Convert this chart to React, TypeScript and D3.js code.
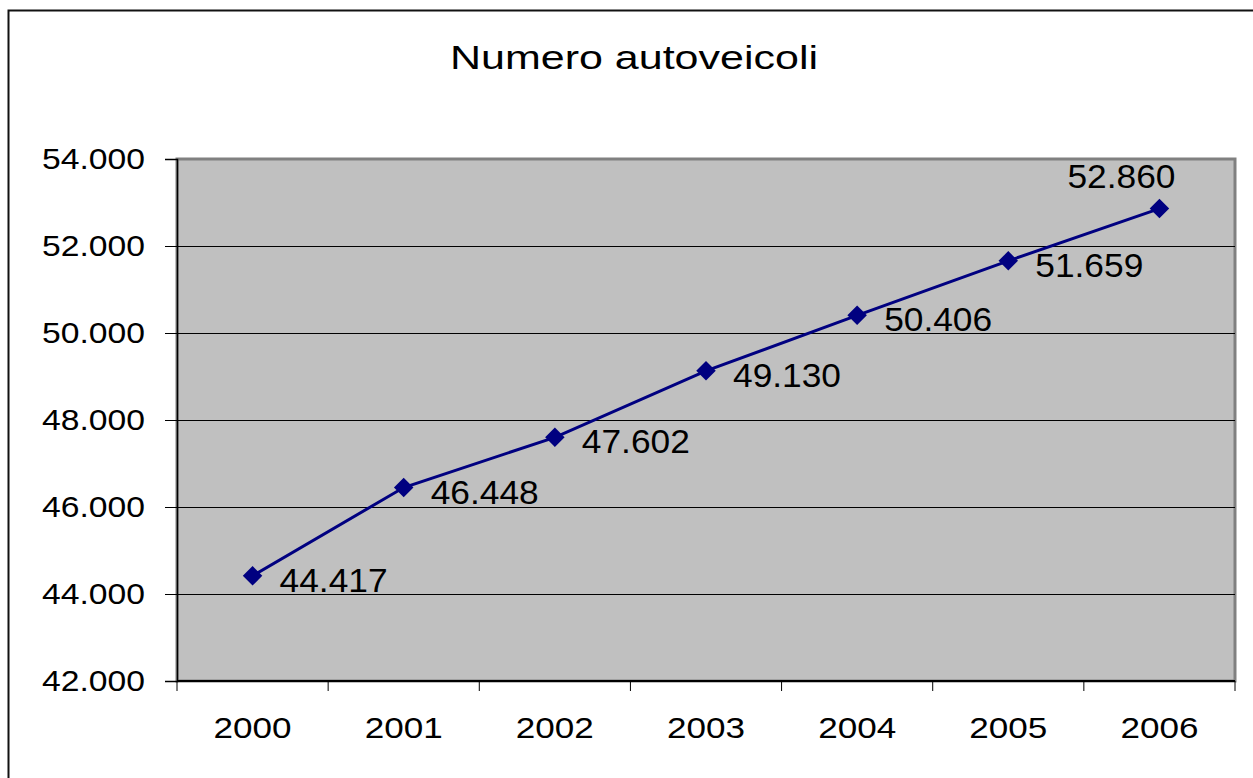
import React, { useEffect, useRef } from 'react';
import * as d3 from 'd3';

const years = ['2000', '2001', '2002', '2003', '2004', '2005', '2006'];
const vehicles = [44417, 46448, 47602, 49130, 50406, 51659, 52860];
const yTicks = [42000, 44000, 46000, 48000, 50000, 52000, 54000];
const title = 'Numero autoveicoli';

// italian style thousands separator
const fmt = (v: number) => d3.format(',')(v).replace(/,/g, '.');

export default function App() {
    const ref = useRef<SVGSVGElement>(null);

    useEffect(() => {
        const svg = d3.select(ref.current);
        svg.selectAll('*').remove();

        const W = 1253, H = 778;
        const m = { left: 177, top: 159, right: 1235, bottom: 681 };
        const font = 'Arial, "Liberation Sans", sans-serif';

        // outer chart border (runs off the right and bottom edge)
        svg.append('rect')
            .attr('x', 8.5).attr('y', 10.5)
            .attr('width', W).attr('height', H)
            .attr('fill', 'white')
            .attr('stroke', '#111').attr('stroke-width', 2);

        // the original font is wide, so stretch glyphs to its widths
        svg.append('text')
            .attr('x', 450).attr('y', 69)
            .attr('font-family', font).attr('font-size', 34)
            .attr('textLength', 368).attr('lengthAdjust', 'spacingAndGlyphs')
            .text(title);

        const x = d3.scaleBand().domain(years).range([m.left, m.right]);
        const y = d3.scaleLinear().domain([42000, 54000]).range([m.bottom, m.top]);

        // plot area
        svg.append('rect')
            .attr('x', m.left).attr('y', m.top)
            .attr('width', m.right - m.left).attr('height', m.bottom - m.top)
            .attr('fill', '#c0c0c0')
            .attr('stroke', '#808080').attr('stroke-width', 3);

        // grid
        svg.append('g').selectAll('line')
            .data(yTicks.slice(1, -1))
            .join('line')
            .attr('x1', m.left).attr('x2', m.right)
            .attr('y1', d => y(d) + 0.5).attr('y2', d => y(d) + 0.5)
            .attr('stroke', '#000').attr('stroke-width', 1);

        // y axis
        const yAxis = svg.append('g')
            .attr('transform', `translate(${m.left},0)`)
            .call(d3.axisLeft(y).tickValues(yTicks).tickSize(12).tickPadding(20).tickFormat(d => fmt(+d)));
        yAxis.select('.domain').attr('stroke', '#000').attr('stroke-width', 1.5);
        yAxis.selectAll('text')
            .attr('font-family', font).attr('font-size', 30)
            .attr('textLength', 103).attr('lengthAdjust', 'spacingAndGlyphs')
            .attr('fill', '#000');

        // x axis, ticks on category boundaries
        const xAxis = svg.append('g')
            .attr('transform', `translate(0,${m.bottom})`);
        xAxis.append('line')
            .attr('x1', m.left).attr('x2', m.right)
            .attr('stroke', '#000').attr('stroke-width', 2);
        const edges = years.map(d => x(d)!).concat([m.right]);
        xAxis.selectAll('line.tick')
            .data(edges)
            .join('line')
            .attr('class', 'tick')
            .attr('x1', d => d).attr('x2', d => d)
            .attr('y1', 0).attr('y2', 10)
            .attr('stroke', '#000');
        xAxis.selectAll('text')
            .data(years)
            .join('text')
            .attr('x', d => x(d)! + x.bandwidth() / 2)
            .attr('y', 57)
            .attr('text-anchor', 'middle')
            .attr('font-family', font).attr('font-size', 30)
            .attr('textLength', 78).attr('lengthAdjust', 'spacingAndGlyphs')
            .text(d => d);

        const cx = (i: number) => x(years[i])! + x.bandwidth() / 2;

        // line
        svg.append('path')
            .datum(vehicles)
            .attr('fill', 'none')
            .attr('stroke', '#000080')
            .attr('stroke-width', 3)
            .attr('d', d3.line<number>().x((d, i) => cx(i)).y(d => y(d)));

        // diamond markers
        svg.append('g').selectAll('path')
            .data(vehicles)
            .join('path')
            .attr('d', d3.symbol(d3.symbolSquare, 190)())
            .attr('transform', (d, i) => `translate(${cx(i)},${y(d)}) rotate(45)`)
            .attr('fill', '#000080');

        // data labels
        const last = vehicles.length - 1;
        svg.append('g').selectAll('text')
            .data(vehicles)
            .join('text')
            .attr('x', (d, i) => i === last ? cx(i) + 16 : cx(i) + 27)
            .attr('y', (d, i) => i === last ? y(d) - 21 : y(d) + 16)
            .attr('text-anchor', (d, i) => i === last ? 'end' : 'start')
            .attr('font-family', font).attr('font-size', 33)
            .attr('textLength', 108).attr('lengthAdjust', 'spacingAndGlyphs')
            .text(d => fmt(d));
    }, []);

    return (
        <svg ref={ref} width={1253} height={778}
            style={{ position: 'absolute', left: 0, top: 0, background: 'white' }} />
    );
}
